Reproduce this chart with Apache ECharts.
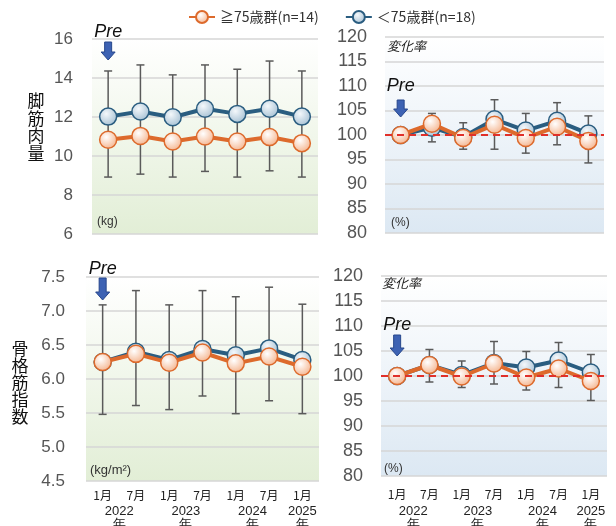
<!DOCTYPE html>
<html>
<head>
<meta charset="utf-8">
<script src="https://cdn.jsdelivr.net/npm/echarts@6/dist/echarts.min.js"></script>
<style>html,body{margin:0;padding:0;background:#fff}#main{width:616px;height:526px}</style>
</head>
<body>
<div id="main"></div>
<script>
// categories / ticks
var months = ['1月', '7月', '1月', '7月', '1月', '7月', '1月'];
var years = ['2022\n年', '2023\n年', '2024\n年', '2025\n年'];
var yearSpan = [[0, 1], [2, 3], [4, 5], [6, 6]];
var nameOld = '≧75歳群(n=14)';
var nameYoung = '＜75歳群(n=18)';

// 脚筋肉量 (kg)
var legOld = [10.83, 11.03, 10.74, 11.0, 10.74, 10.97, 10.66];
var legYoung = [12.02, 12.28, 11.99, 12.42, 12.16, 12.42, 12.02];
var legHigh = [14.36, 14.67, 14.16, 14.67, 14.45, 14.87, 14.36];
var legLow = [8.92, 9.07, 8.92, 9.21, 8.92, 9.24, 8.92];

// 脚筋肉量 変化率 (%)
var legRateOld = [100, 102.3, 99.4, 102.1, 99.4, 101.7, 98.8];
var legRateYoung = [100, 101.5, 99.6, 103.2, 100.9, 102.9, 100.3];
var legRateHigh = [null, 104.4, 102.5, 107.2, 104.4, 106.6, 103.9];
var legRateLow = [null, 98.6, 97.1, 97.1, 96.3, 98.0, 94.3];

// 骨格筋指数 (kg/m2)
var smiOld = [6.25, 6.37, 6.24, 6.39, 6.23, 6.33, 6.18];
var smiYoung = [6.25, 6.40, 6.28, 6.44, 6.35, 6.45, 6.28];
var smiHigh = [7.09, 7.30, 7.09, 7.30, 7.21, 7.35, 7.10];
var smiLow = [5.48, 5.61, 5.55, 5.75, 5.49, 5.68, 5.49];

// 骨格筋指数 変化率 (%)
var smiRateOld = [100, 102.2, 99.9, 102.5, 99.7, 101.5, 99.0];
var smiRateYoung = [100, 102.2, 100.2, 102.6, 101.7, 103.1, 100.7];
var smiRateHigh = [null, 105.3, 103.0, 106.9, 104.9, 106.7, 104.3];
var smiRateLow = [null, 98.8, 97.7, 98.4, 97.2, 97.7, 95.1];

var orange = '#dd6a2c';
var blue = '#2a5d80';
var numFont = '"Liberation Sans", Arial, sans-serif';
var jpFont = '"Noto Sans CJK JP", sans-serif';

function bg(c) {
    return new echarts.graphic.LinearGradient(0, 0, 0, 1, [
        {offset: 0, color: '#ffffff'},
        {offset: 1, color: c}
    ]);
}
function dot(c1, c2) {
    return new echarts.graphic.RadialGradient(0.4, 0.35, 0.75, [
        {offset: 0, color: c1},
        {offset: 1, color: c2}
    ]);
}

function errData(low, high) {
    var out = [];
    for (var i = 0; i < low.length; i++) {
        if (low[i] != null) out.push([i, low[i], high[i]]);
    }
    return out;
}

function errSeries(idx, low, high) {
    return {
        type: 'custom',
        xAxisIndex: idx, yAxisIndex: idx,
        silent: true, z: 1,
        data: errData(low, high),
        encode: {x: 0, y: [1, 2]},
        renderItem: function (params, api) {
            var a = api.coord([api.value(0), api.value(1)]);
            var b = api.coord([api.value(0), api.value(2)]);
            var w = 4;
            var st = {stroke: '#5a5a5a', lineWidth: 1.5};
            return {
                type: 'group',
                children: [
                    {type: 'line', shape: {x1: a[0], y1: a[1], x2: b[0], y2: b[1]}, style: st},
                    {type: 'line', shape: {x1: a[0] - w, y1: a[1], x2: a[0] + w, y2: a[1]}, style: st},
                    {type: 'line', shape: {x1: b[0] - w, y1: b[1], x2: b[0] + w, y2: b[1]}, style: st}
                ]
            };
        }
    };
}

function lineSeries(idx, name, data, color, fill, z, ref) {
    var s = {
        type: 'line', name: name,
        xAxisIndex: idx, yAxisIndex: idx,
        data: data, z: z,
        symbol: 'circle', symbolSize: 17,
        lineStyle: {color: color, width: 4},
        itemStyle: {color: fill, borderColor: color, borderWidth: 1.5},
        emphasis: {disabled: true}
    };
    if (ref) {
        s.markLine = {
            silent: true, symbol: 'none',
            label: {show: false},
            lineStyle: {color: '#e0302a', type: [7, 5], width: 2},
            data: [{yAxis: 100}]
        };
    }
    return s;
}

var grids = [
    {left: 92, right: 298, top: 39, height: 195, backgroundColor: bg('#e2eed6')},
    {left: 385, right: 12, top: 37, height: 196, backgroundColor: bg('#dce8f3')},
    {left: 86, right: 297, top: 277, height: 204, backgroundColor: bg('#e2eed6')},
    {left: 381, right: 9, top: 276, height: 200, backgroundColor: bg('#dce8f3')}
];
grids.forEach(function (g) { g.show = true; g.borderWidth = 0; });

function xAx(idx, showLabel, margin) {
    return {
        type: 'category', gridIndex: idx, data: months,
        boundaryGap: true,
        axisLine: {show: false}, axisTick: {show: false},
        axisLabel: {show: showLabel, margin: margin, fontSize: 12, color: '#222', fontFamily: jpFont}
    };
}
function yAx(idx, min, max, interval, fs, margin, dec) {
    return {
        type: 'value', gridIndex: idx, min: min, max: max, interval: interval,
        axisLine: {show: false}, axisTick: {show: false},
        splitLine: {lineStyle: {color: '#d6d6d6', width: 1.5}},
        axisLabel: {
            fontSize: fs, color: '#555', margin: margin, fontFamily: numFont,
            formatter: function (v) { return dec ? v.toFixed(1) : String(v); }
        }
    };
}

var oFill = dot('#ffffff', '#f3ab80');
var bFill = dot('#f4f8fb', '#9dbacf');

var dom = document.getElementById('main');
var myChart = echarts.init(dom);
var option = {
    animation: false,
    backgroundColor: '#fff',
    legend: {
        data: [nameOld, nameYoung],
        left: 183, top: 5,
        itemWidth: 26, itemHeight: 15, itemGap: 26,
        selectedMode: false,
        textStyle: {fontSize: 14, color: '#333', fontFamily: jpFont}
    },
    grid: grids,
    xAxis: [xAx(0, false, 8), xAx(1, false, 8), xAx(2, true, 8), xAx(3, true, 12)],
    yAxis: [
        yAx(0, 6, 16, 2, 17, 19, false),
        yAx(1, 80, 120, 5, 18, 18, false),
        yAx(2, 4.5, 7.5, 0.5, 17, 21, true),
        yAx(3, 80, 120, 5, 18, 18, false)
    ],
    series: [
        errSeries(0, legLow, legHigh),
        lineSeries(0, nameYoung, legYoung, blue, bFill, 2, false),
        lineSeries(0, nameOld, legOld, orange, oFill, 3, false),
        errSeries(1, legRateLow, legRateHigh),
        lineSeries(1, nameYoung, legRateYoung, blue, bFill, 2, true),
        lineSeries(1, nameOld, legRateOld, orange, oFill, 3, false),
        errSeries(2, smiLow, smiHigh),
        lineSeries(2, nameYoung, smiYoung, blue, bFill, 2, false),
        lineSeries(2, nameOld, smiOld, orange, oFill, 3, false),
        errSeries(3, smiRateLow, smiRateHigh),
        lineSeries(3, nameYoung, smiRateYoung, blue, bFill, 2, true),
        lineSeries(3, nameOld, smiRateOld, orange, oFill, 3, false)
    ]
};
myChart.setOption(option);

// annotations placed from the axes
function px(idx, cat) {
    return myChart.convertToPixel({xAxisIndex: idx, yAxisIndex: idx}, [cat, 0])[0];
}
function arrow(x, y0, y1) {
    return {
        type: 'polygon', z: 10,
        shape: {points: [[x - 3.5, y0], [x + 3.5, y0], [x + 3.5, y1 - 8], [x + 7, y1 - 8], [x, y1], [x - 7, y1 - 8], [x - 3.5, y1 - 8]]},
        style: {fill: '#3d62b3', stroke: '#27478c', lineWidth: 1}
    };
}
function txt(x, y, s, opt) {
    var st = {text: s, x: x, y: y, fill: '#222', font: '12px ' + jpFont, textAlign: 'left', textVerticalAlign: 'middle'};
    for (var k in opt) st[k] = opt[k];
    return {type: 'text', z: 10, style: st};
}

var pre = [[0, 32, 42, 60], [1, 86, 100, 117], [2, 269, 278, 300], [3, 325, 335, 356]];
var g = [];
pre.forEach(function (p) {
    var x = px(p[0], 0);
    g.push(txt(x, p[1], 'Pre', {font: 'italic 18px ' + numFont, textAlign: 'center', fill: '#111'}));
    g.push(arrow(x, p[2], p[3]));
});
g.push(txt(97, 222, '(kg)', {font: '12px ' + numFont, fill: '#333'}));
g.push(txt(391, 223, '(%)', {font: '12px ' + numFont, fill: '#333'}));
g.push(txt(90, 470, '(kg/m²)', {font: '13px ' + numFont, fill: '#333'}));
g.push(txt(384, 469, '(%)', {font: '12px ' + numFont, fill: '#333'}));
g.push(txt(387, 46, '変化率', {font: 'italic 13px ' + jpFont, fill: '#222'}));
g.push(txt(382, 283, '変化率', {font: 'italic 13px ' + jpFont, fill: '#222'}));
g.push(txt(36, 127, '脚\n筋\n肉\n量', {font: '17px ' + jpFont, lineHeight: 17.5, textAlign: 'center', fill: '#111'}));
g.push(txt(20, 383, '骨\n格\n筋\n指\n数', {font: '17px ' + jpFont, lineHeight: 17, textAlign: 'center', fill: '#111'}));
[2, 3].forEach(function (idx) {
    yearSpan.forEach(function (sp, i) {
        var x = (px(idx, sp[0]) + px(idx, sp[1])) / 2;
        g.push(txt(x, 505, years[i], {font: '13px ' + numFont, lineHeight: 13, textAlign: 'center', textVerticalAlign: 'top', fill: '#222'}));
    });
});
myChart.setOption({graphic: g});
window.onresize = myChart.resize;
</script>
</body>
</html>
